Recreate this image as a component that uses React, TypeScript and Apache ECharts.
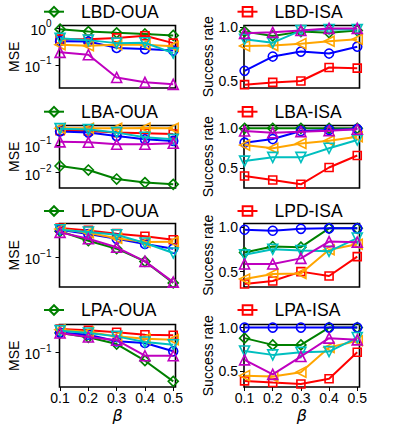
import React, { useEffect, useRef } from 'react';
import * as echarts from 'echarts';

// ---------- data ----------
const betas = [0.1, 0.2, 0.3, 0.4, 0.5];
const rowNames = ['LBD', 'LBA', 'LPD', 'LPA'];
const mseTickValues = [[1, 0.1], [0.1, 0.01], [0.1], [0.1]];
const rateTickValues = [0.5, 1.0];

// series order: green, red, blue, orange, cyan, magenta
const lbdOua = [
  [0.93, 0.8, 0.74, 0.69, 0.63],
  [0.5, 0.5, 0.54, 0.62, 0.39],
  [0.44, 0.43, 0.29, 0.27, 0.245],
  [0.355, 0.33, 0.355, 0.355, 0.32],
  [0.53, 0.47, 0.39, 0.4, 0.21],
  [0.22, 0.19, 0.046, 0.034, 0.03],
];
const lbdIsa = [
  [0.96, 0.92, 0.96, 0.95, 0.97],
  [0.466, 0.487, 0.5, 0.626, 0.62],
  [0.595, 0.728, 0.774, 0.756, 0.82],
  [0.827, 0.83, 0.848, 0.87, 0.889],
  [0.889, 0.857, 0.97, 0.98, 0.98],
  [0.944, 0.953, 0.97, 0.99, 0.99],
];
const lbaOua = [
  [0.0175, 0.0125, 0.0059, 0.0044, 0.0038],
  [0.33, 0.32, 0.28, 0.265, 0.25],
  [0.31, 0.28, 0.21, 0.16, 0.14],
  [0.4, 0.4, 0.4, 0.41, 0.4],
  [0.39, 0.36, 0.28, 0.19, 0.16],
  [0.13, 0.125, 0.106, 0.106, 0.115],
];
const lbaIsa = [
  [1.0, 1.0, 1.0, 1.0, 1.0],
  [0.404, 0.354, 0.3, 0.51, 0.66],
  [0.82, 0.866, 0.966, 0.98, 0.99],
  [0.79, 0.75, 0.81, 0.845, 0.895],
  [0.59, 0.637, 0.637, 0.75, 0.854],
  [0.966, 0.945, 0.958, 0.97, 0.988],
];
const lpdOua = [
  [0.447, 0.26, 0.164, 0.079, 0.0228],
  [0.54, 0.47, 0.39, 0.335, 0.275],
  [0.49, 0.38, 0.29, 0.215, 0.164],
  [0.51, 0.41, 0.3, 0.24, 0.245],
  [0.49, 0.43, 0.367, 0.228, 0.128],
  [0.42, 0.29, 0.178, 0.079, 0.024],
];
const lpdIsa = [
  [0.716, 0.784, 0.777, 0.99, 0.99],
  [0.36, 0.394, 0.5, 0.45, 0.67],
  [0.974, 0.963, 0.985, 0.99, 0.99],
  [0.417, 0.474, 0.48, 0.747, 0.81],
  [0.69, 0.754, 0.74, 0.73, 0.88],
  [0.587, 0.587, 0.65, 0.84, 0.834],
];
const lpaOua = [
  [0.304, 0.237, 0.161, 0.0617, 0.0188],
  [0.382, 0.355, 0.316, 0.275, 0.266],
  [0.311, 0.275, 0.188, 0.171, 0.106],
  [0.367, 0.32, 0.25, 0.219, 0.207],
  [0.347, 0.304, 0.25, 0.181, 0.155],
  [0.304, 0.241, 0.2, 0.082, 0.082],
];
const lpaIsa = [
  [0.878, 0.8, 0.8, 1.0, 1.0],
  [0.385, 0.366, 0.35, 0.41, 0.716],
  [1.0, 1.0, 1.0, 1.0, 1.0],
  [0.446, 0.435, 0.486, 0.77, 0.847],
  [0.73, 0.685, 0.716, 0.723, 0.885],
  [0.627, 0.46, 0.666, 0.878, 0.858],
];
const mseData = [lbdOua, lbaOua, lpdOua, lpaOua];
const rateData = [lbdIsa, lbaIsa, lpdIsa, lpaIsa];

// ---------- styles / layout ----------
const COLORS = ['#008000', '#ff0000', '#0000ff', '#ffa500', '#00bfbf', '#bf00bf'];
const SYMBOLS = ['diamond', 'rect', 'circle', 'triangle', 'triangle', 'triangle'];
const ROTS = [0, 0, 0, 90, 180, 0];
const SIZES = [10, 8, 9, 10, 10, 10];
const FONT = '"Liberation Sans", Arial, sans-serif';
const ROW_TOP = [25.5, 125.5, 223.5, 324.5];
const ROW_H = [62.5, 62.5, 63.5, 62.5];
const COL_LEFT = [59.5, 244];
const COL_W = [116, 115.5];
const MSE_RANGE = [[0.0239, 1.168], [0.0028, 0.506], [0.0181, 0.7], [0.01357, 0.495]];
const RATE_RANGE = [[0.435, 1.017], [0.254, 1.035], [0.326, 1.045], [0.315, 1.035]];
const LEGEND_Y = [11.7, 111.7, 211, 310];
const LEGEND_X = [43, 236.5];

function supLabel(v: number) {
  const e = Math.round(Math.log10(v));
  const s = e < 0 ? '\u2212' + String(-e) : String(e);
  return '{b|10}{s|' + s + '}';
}

function buildOption() {
  const grid: any[] = [];
  const xAxis: any[] = [];
  const yAxis: any[] = [];
  const series: any[] = [];
  const legend: any[] = [];
  for (let r = 0; r < 4; r++) {
    for (let c = 0; c < 2; c++) {
      const idx = r * 2 + c;
      const isMse = c === 0;
      const title = rowNames[r] + (isMse ? '-OUA' : '-ISA');
      grid.push({
        left: COL_LEFT[c], top: ROW_TOP[r], width: COL_W[c], height: ROW_H[r],
        show: true, borderColor: '#000', borderWidth: 1.6, backgroundColor: 'transparent',
      });
      const bottom = r === 3;
      xAxis.push({
        type: 'value', gridIndex: idx, min: 0.098, max: 0.508,
        axisLine: { show: false }, splitLine: { show: false },
        axisTick: { show: bottom, length: 4, lineStyle: { color: '#000', width: 1 }, customValues: betas },
        axisLabel: {
          show: bottom, customValues: betas, formatter: (v: number) => v.toFixed(1),
          fontSize: 14, color: '#000', fontFamily: FONT, margin: 4,
        },
        name: bottom ? '\u03b2' : '', nameLocation: 'middle', nameGap: 20,
        nameTextStyle: { fontSize: 16, fontStyle: 'italic', color: '#000', fontFamily: 'DejaVu Sans' },
      });
      if (isMse) {
        yAxis.push({
          type: 'log', logBase: 10, gridIndex: idx, min: MSE_RANGE[r][0], max: MSE_RANGE[r][1],
          axisLine: { show: false }, splitLine: { show: false }, minorTick: { show: false },
          axisTick: { show: true, length: 4, lineStyle: { color: '#000', width: 1 }, customValues: mseTickValues[r] },
          axisLabel: {
            customValues: mseTickValues[r], formatter: supLabel, margin: 8,
            rich: {
              b: { fontSize: 14, lineHeight: 18, verticalAlign: 'bottom', color: '#000', fontFamily: FONT },
              s: { fontSize: 10, lineHeight: 10, verticalAlign: 'top', color: '#000', fontFamily: FONT },
            },
          },
          name: 'MSE', nameLocation: 'middle', nameGap: 38,
          nameTextStyle: { fontSize: 14, color: '#000', fontFamily: FONT },
        });
      } else {
        yAxis.push({
          type: 'value', gridIndex: idx, min: RATE_RANGE[r][0], max: RATE_RANGE[r][1],
          axisLine: { show: false }, splitLine: { show: false },
          axisTick: { show: true, length: 4, lineStyle: { color: '#000', width: 1 }, customValues: rateTickValues },
          axisLabel: {
            customValues: rateTickValues, formatter: (v: number) => v.toFixed(1),
            fontSize: 14, color: '#000', fontFamily: FONT, margin: 6,
          },
          name: 'Success rate', nameLocation: 'middle', nameGap: 28,
          nameTextStyle: { fontSize: 14, color: '#000', fontFamily: FONT },
        });
      }
      const data = isMse ? mseData[r] : rateData[r];
      const legendIdx = isMse ? 0 : 1;
      data.forEach((vals, si) => {
        const name = si === legendIdx ? title : title + ' #' + (si + 1);
        series.push({
          type: 'line', name, xAxisIndex: idx, yAxisIndex: idx,
          data: betas.map((b, i) => [b, vals[i]]),
          symbol: SYMBOLS[si], symbolSize: SIZES[si], symbolRotate: ROTS[si],
          showSymbol: true, clip: true, silent: true, z: 2 + si,
          lineStyle: { color: COLORS[si], width: 2 },
          itemStyle: { color: 'none', borderColor: COLORS[si], borderWidth: 1.6 },
          emphasis: { disabled: true },
        });
      });
      legend.push({
        data: [title], left: LEGEND_X[c], top: LEGEND_Y[r] - 10, padding: 0,
        itemWidth: 20, itemHeight: 12, selectedMode: false,
        textStyle: { fontSize: 17.5, lineHeight: 20, color: '#000', fontFamily: FONT, padding: [0, 0, 0, 12] },
      });
    }
  }
  return {
    animation: false,
    backgroundColor: '#fff',
    grid, xAxis, yAxis, series, legend,
  };
}

export default function App() {
  const ref = useRef<HTMLDivElement>(null);
  useEffect(() => {
    if (!ref.current) return;
    const chart = echarts.init(ref.current, null, { renderer: 'svg' });
    chart.setOption(buildOption() as any);
    return () => chart.dispose();
  }, []);
  return (
    <div
      ref={ref}
      style={{ position: 'absolute', left: 0, top: 0, width: 399, height: 426, background: '#fff' }}
    />
  );
}
